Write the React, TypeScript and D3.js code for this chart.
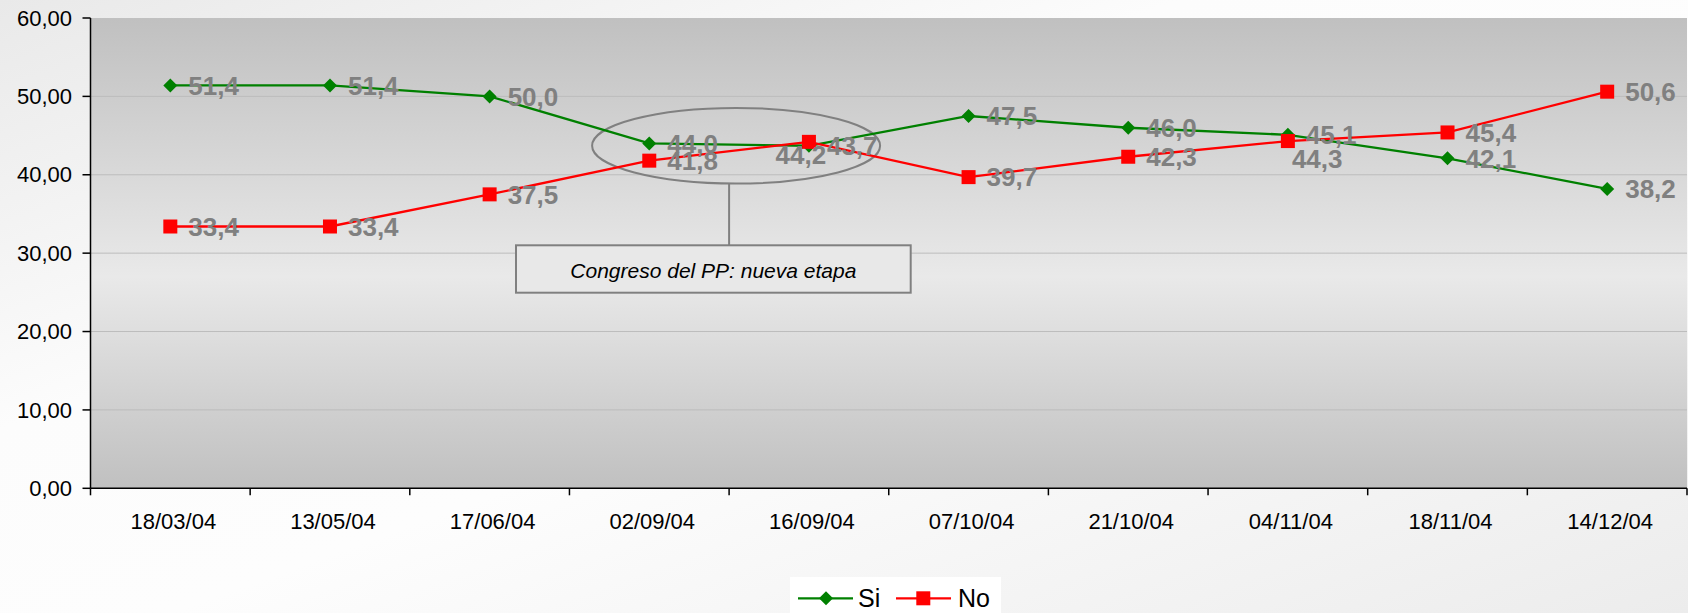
import React from "react";
import * as d3 from "d3";

const categories = ["18/03/04", "13/05/04", "17/06/04", "02/09/04", "16/09/04", "07/10/04", "21/10/04", "04/11/04", "18/11/04", "14/12/04"];
const siValues = [51.4, 51.4, 50.0, 44.0, 43.7, 47.5, 46.0, 45.1, 42.1, 38.2];
const noValues = [33.4, 33.4, 37.5, 41.8, 44.2, 39.7, 42.3, 44.3, 45.4, 50.6];
const yTicks = [0, 10, 20, 30, 40, 50, 60];
const annotationText = "Congreso del PP: nueva etapa";

const W = 1688;
const H = 613;
const FONT = "'Liberation Sans', Arial, Helvetica, sans-serif";

const locale = d3.formatLocale({ decimal: ",", thousands: ".", grouping: [3], currency: ["", "€"] });
const fmtAxis = locale.format(".2f");
const fmtLabel = locale.format(".1f");

export default function App() {
  const x = d3.scaleBand<string>().domain(categories).range([90.5, 1687]).padding(0);
  const y = d3.scaleLinear().domain([0, 60]).range([488.3, 18]);
  const bw = x.bandwidth();
  const cx = (c: string) => (x(c) as number) + bw / 2;

  const line = d3
    .line<number>()
    .x((_, i) => cx(categories[i]))
    .y((d) => y(d));

  const series = [
    { name: "Si", values: siValues, color: "#008000", marker: "diamond" },
    { name: "No", values: noValues, color: "#FF0000", marker: "square" },
  ];

  // label placements (special cases)
  const placement = (s: string, c: string) => {
    if (s === "No" && c === "16/09/04") return { anchor: "middle", dx: -8, dy: 22.5 };
    if (s === "No" && c === "04/11/04") return { anchor: "start", dx: 4, dy: 27 };
    return { anchor: "start", dx: 18, dy: 9.3 };
  };

  const diamondPath = (s: number) => `M0,${-s} L${s},0 L0,${s} L${-s},0 Z`;

  const plotL = 90.5;
  const plotR = 1687;
  const plotT = y(60);
  const plotB = y(0);

  // annotation anchored to the two congress categories
  const ax = (cx(categories[3]) + cx(categories[4])) / 2;
  const ellCx = ax + 7;
  const ellCy = y(43.7);
  const ellRx = 144;
  const ellRy = 37.8;
  const connX = ax;
  const boxL = 516;
  const boxR = 910.7;
  const boxT = 245.3;
  const boxB = 292.7;

  return (
    <svg
      width={W}
      height={H}
      style={{ position: "absolute", left: 0, top: 0, fontFamily: FONT }}
      xmlns="http://www.w3.org/2000/svg"
    >
      <defs>
        <linearGradient id="bg" x1="0" y1="0" x2="1" y2="1">
          <stop offset="0" stopColor="#e9e9e9" />
          <stop offset="0.35" stopColor="#fcfcfc" />
          <stop offset="0.55" stopColor="#fdfdfd" />
          <stop offset="1" stopColor="#ececec" />
        </linearGradient>
        <linearGradient id="plotbg" x1="0" y1="0" x2="0" y2="1">
          <stop offset="0" stopColor="#c0c0c0" />
          <stop offset="0.55" stopColor="#e9e9e9" />
          <stop offset="1" stopColor="#c0c0c0" />
        </linearGradient>
      </defs>
      <rect x={0} y={0} width={W} height={H} fill="url(#bg)" />
      <rect x={plotL} y={plotT} width={plotR - plotL} height={plotB - plotT} fill="url(#plotbg)" />

      {/* gridlines */}
      {yTicks
        .filter((t) => t > 0 && t < 60)
        .map((t) => (
          <line key={"g" + t} x1={plotL} x2={plotR} y1={y(t)} y2={y(t)} stroke="#bcbcbc" strokeWidth={1} />
        ))}

      {/* annotation */}
      <ellipse cx={ellCx} cy={ellCy} rx={ellRx} ry={ellRy} fill="none" stroke="#808080" strokeWidth={2} />
      <line x1={connX} x2={connX} y1={ellCy + ellRy} y2={boxT} stroke="#808080" strokeWidth={2} />
      <rect x={boxL} y={boxT} width={boxR - boxL} height={boxB - boxT} fill="#e8e8e8" stroke="#808080" strokeWidth={2} />
      <text x={(boxL + boxR) / 2} y={278} textAnchor="middle" fontSize={21} fontStyle="italic" fill="#000">
        {annotationText}
      </text>

      {/* axes */}
      <line x1={plotL} x2={plotL} y1={plotT} y2={plotB} stroke="#000" strokeWidth={1.5} />
      <line x1={plotL} x2={plotR} y1={plotB} y2={plotB} stroke="#000" strokeWidth={1.5} />
      {yTicks.map((t) => (
        <g key={"y" + t}>
          <line x1={plotL - 8} x2={plotL} y1={y(t)} y2={y(t)} stroke="#000" strokeWidth={1.5} />
          <text x={72} y={y(t)} dy="0.35em" textAnchor="end" fontSize={22} fill="#000">
            {fmtAxis(t)}
          </text>
        </g>
      ))}
      {categories.map((c, i) => (
        <g key={"x" + c}>
          <line x1={x(c)! + bw} x2={x(c)! + bw} y1={plotB} y2={plotB + 7} stroke="#000" strokeWidth={1.5} />
          {i === 0 && <line x1={x(c)!} x2={x(c)!} y1={plotB} y2={plotB + 7} stroke="#000" strokeWidth={1.5} />}
          <text x={cx(c) + 3} y={529} textAnchor="middle" fontSize={22} fill="#000">
            {c}
          </text>
        </g>
      ))}

      {/* lines */}
      {series.map((s) => (
        <path key={"l" + s.name} d={line(s.values) || ""} fill="none" stroke={s.color} strokeWidth={2.3} />
      ))}
      {/* markers */}
      {series.map((s) =>
        s.values.map((v, i) =>
          s.marker === "diamond" ? (
            <path
              key={s.name + i}
              d={diamondPath(7)}
              transform={`translate(${cx(categories[i])},${y(v)})`}
              fill={s.color}
            />
          ) : (
            <rect key={s.name + i} x={cx(categories[i]) - 7} y={y(v) - 7} width={14} height={14} fill={s.color} />
          )
        )
      )}
      {/* data labels */}
      {series.map((s) =>
        s.values.map((v, i) => {
          const p = placement(s.name, categories[i]);
          return (
            <text
              key={"t" + s.name + i}
              x={cx(categories[i]) + p.dx}
              y={y(v) + p.dy}
              textAnchor={p.anchor}
              fontSize={26}
              fontWeight="bold"
              fill="#808080"
            >
              {fmtLabel(v)}
            </text>
          );
        })
      )}

      {/* legend */}
      <rect x={790} y={577} width={211} height={40} fill="#ffffff" />
      <line x1={798} x2={853} y1={598.3} y2={598.3} stroke="#008000" strokeWidth={2.3} />
      <path d={diamondPath(7)} transform="translate(826,598.3)" fill="#008000" />
      <text x={858} y={607} fontSize={25} fill="#000">
        Si
      </text>
      <line x1={896} x2={951} y1={598.3} y2={598.3} stroke="#FF0000" strokeWidth={2.3} />
      <rect x={916.3} y={591.3} width={14} height={14} fill="#FF0000" />
      <text x={958} y={607} fontSize={25} fill="#000">
        No
      </text>
    </svg>
  );
}
